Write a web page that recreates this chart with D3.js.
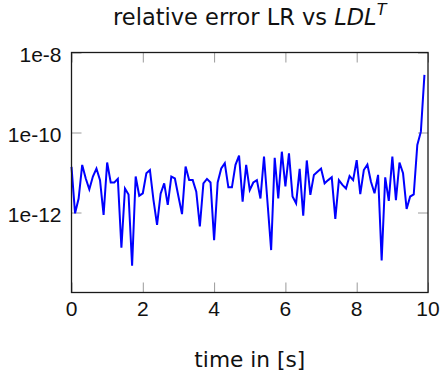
<!DOCTYPE html>
<html>
<head>
<meta charset="utf-8">
<script src="https://cdn.jsdelivr.net/npm/d3@7"></script>
<style>
  html, body { margin: 0; padding: 0; background: #fff; }
  svg { display: block; }
  text { font-family: "Liberation Sans", Arial, sans-serif; fill: #111; }
  .label { font-family: "DejaVu Sans", sans-serif; }
</style>
</head>
<body>
<svg id="chart" width="441" height="374"></svg>
<script>
// Simulation time stamps [s]
const times = [
  0.0, 0.1, 0.2, 0.3, 0.4, 0.5, 0.6, 0.7, 0.8, 0.9,
  1.0, 1.1, 1.2, 1.3, 1.4, 1.5, 1.6, 1.7, 1.8, 1.9,
  2.0, 2.1, 2.2, 2.3, 2.4, 2.5, 2.6, 2.7, 2.8, 2.9,
  3.0, 3.1, 3.2, 3.3, 3.4, 3.5, 3.6, 3.7, 3.8, 3.9,
  4.0, 4.1, 4.2, 4.3, 4.4, 4.5, 4.6, 4.7, 4.8, 4.9,
  5.0, 5.1, 5.2, 5.3, 5.4, 5.5, 5.6, 5.7, 5.8, 5.9,
  6.0, 6.1, 6.2, 6.3, 6.4, 6.5, 6.6, 6.7, 6.8, 6.9,
  7.0, 7.1, 7.2, 7.3, 7.4, 7.5, 7.6, 7.7, 7.8, 7.9,
  8.0, 8.1, 8.2, 8.3, 8.4, 8.5, 8.6, 8.7, 8.8, 8.9,
  9.0, 9.1, 9.2, 9.3, 9.4, 9.5, 9.6, 9.7, 9.8, 9.9
];

// Relative error between the LR and LDL^T solutions
const relError = [
  1.38e-11, 9.55e-13, 2.24e-12, 1.55e-11, 7.08e-12, 3.80e-12, 7.94e-12, 1.26e-11, 6.46e-12, 8.71e-13,
  1.78e-11, 5.62e-12, 5.62e-12, 6.92e-12, 1.32e-13, 3.98e-12, 2.82e-12, 4.68e-14, 7.94e-12, 2.63e-12,
  3.02e-12, 9.55e-12, 1.15e-11, 2.04e-12, 4.90e-13, 2.95e-12, 5.37e-12, 1.55e-12, 7.94e-12, 7.08e-12,
  2.51e-12, 9.12e-13, 1.41e-11, 6.46e-12, 6.46e-12, 3.31e-12, 4.47e-13, 5.37e-12, 6.92e-12, 5.62e-12,
  2.04e-13, 5.62e-12, 1.26e-11, 1.70e-11, 4.27e-12, 4.27e-12, 1.55e-11, 2.63e-11, 1.86e-12, 1.55e-11,
  3.63e-12, 5.62e-12, 6.46e-12, 2.24e-12, 2.51e-11, 1.70e-12, 1.15e-13, 2.34e-11, 2.24e-12, 3.31e-11,
  4.47e-12, 3.02e-11, 2.51e-12, 1.70e-12, 1.23e-11, 8.32e-13, 2.00e-11, 2.75e-12, 8.71e-12, 1.05e-11,
  1.26e-11, 5.37e-12, 6.46e-12, 7.59e-12, 6.92e-13, 6.46e-12, 4.90e-12, 3.98e-12, 8.13e-12, 6.46e-12,
  2.04e-11, 2.88e-12, 1.15e-11, 1.58e-11, 5.89e-12, 3.02e-12, 8.71e-12, 6.31e-14, 7.59e-12, 1.95e-12,
  2.51e-11, 2.04e-12, 1.78e-11, 9.55e-12, 1.23e-12, 2.51e-12, 2.82e-12, 4.90e-11, 1.05e-10, 2.75e-9
];

// Axis ticks and labels
const xTicks = [0, 2, 4, 6, 8, 10];
const yTicks = [1e-8, 1e-10, 1e-12];
const yTickLabels = ["1e-8", "1e-10", "1e-12"];
const xDomain = [0, 10];
const yDomain = [1e-14, 1e-8];

const svg = d3.select("#chart");
const margin = { left: 71.5, right: 13, top: 52.5, bottom: 81.5 };
const W = 441, H = 374;
const x0 = margin.left, x1 = W - margin.right;
const y0 = H - margin.bottom, y1 = margin.top;

const x = d3.scaleLinear().domain(xDomain).range([x0, x1]);
const y = d3.scaleLog().domain(yDomain).range([y0, y1]);

const tickLen = 10;
const tickColor = "#9a9a9a";

// Inward ticks on all four sides
const xAxisBottom = d3.axisTop(x).tickValues(xTicks).tickSize(tickLen).tickFormat("");
const xAxisTop = d3.axisBottom(x).tickValues(xTicks).tickSize(tickLen).tickFormat("");
const yAxisLeft = d3.axisRight(y).tickValues(yTicks).tickSize(tickLen).tickFormat("");
const yAxisRight = d3.axisLeft(y).tickValues(yTicks).tickSize(tickLen).tickFormat("");

function styleTicks(g) {
  g.select(".domain").remove();
  g.selectAll(".tick line").attr("stroke", tickColor).attr("stroke-width", 1);
}

svg.append("g").attr("transform", `translate(0,${y0})`).call(xAxisBottom).call(styleTicks);
svg.append("g").attr("transform", `translate(0,${y1})`).call(xAxisTop).call(styleTicks);
svg.append("g").attr("transform", `translate(${x0},0)`).call(yAxisLeft).call(styleTicks);
svg.append("g").attr("transform", `translate(${x1},0)`).call(yAxisRight).call(styleTicks);

// Data line
const line = d3.line()
  .x((d, i) => x(times[i]))
  .y(d => y(d));

svg.append("path")
  .datum(relError)
  .attr("fill", "none")
  .attr("stroke", "#0000ff")
  .attr("stroke-width", 2)
  .attr("stroke-linejoin", "miter")
  .attr("d", line);

// Plot frame
svg.append("rect")
  .attr("x", x0).attr("y", y1)
  .attr("width", x1 - x0).attr("height", y0 - y1)
  .attr("fill", "none")
  .attr("stroke", "#1a1a1a")
  .attr("stroke-width", 1.3);

// Tick labels
svg.append("g").selectAll("text")
  .data(xTicks)
  .join("text")
  .attr("x", d => x(d))
  .attr("y", y0 + 23.5)
  .attr("text-anchor", "middle")
  .attr("font-size", 21)
  .text(d => d);

svg.append("g").selectAll("text")
  .data(yTicks)
  .join("text")
  .attr("x", x0 - 10)
  .attr("y", d => y(d) + 9.5)
  .attr("text-anchor", "end")
  .attr("font-size", 21)
  .text((d, i) => yTickLabels[i]);

// Axis title
svg.append("text")
  .attr("class", "label")
  .attr("x", (x0 + x1) / 2)
  .attr("y", 366.5)
  .attr("text-anchor", "middle")
  .attr("font-size", 21.7)
  .text("time in [s]");

// Chart title
const title = svg.append("text")
  .attr("class", "label")
  .attr("x", (x0 + x1) / 2)
  .attr("y", 25)
  .attr("text-anchor", "middle")
  .attr("font-size", 22.5);
title.append("tspan").text("relative error LR vs ");
title.append("tspan").attr("font-style", "italic").text("LDL");
title.append("tspan").attr("font-style", "italic").attr("font-size", 16).attr("dy", -10).text("T");
</script>
</body>
</html>
